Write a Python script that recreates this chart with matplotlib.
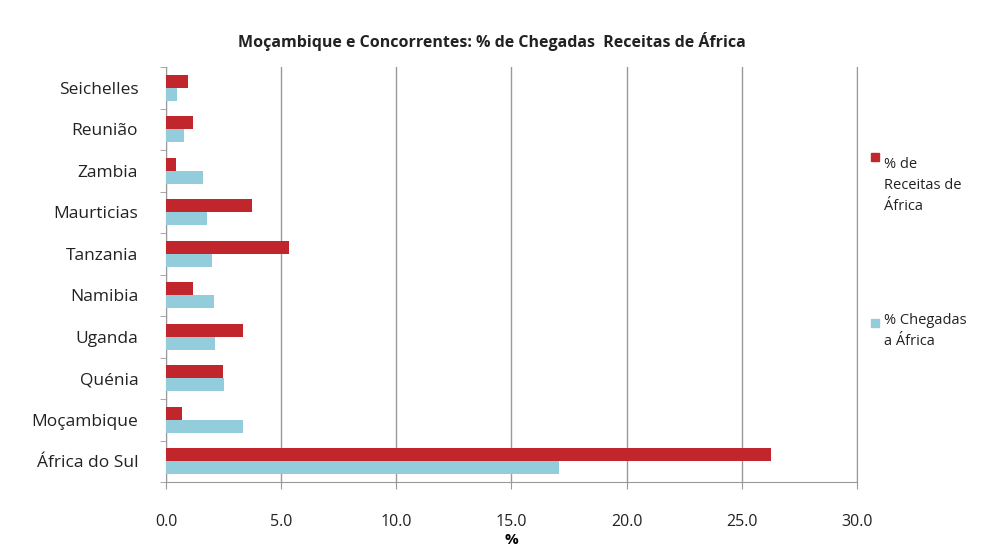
import matplotlib
matplotlib.use("Agg")
import matplotlib.pyplot as plt
import numpy as np
from matplotlib.patches import Rectangle

plt.rcParams['font.family'] = ['Open Sans', 'DejaVu Sans']

categories = ["África do Sul", "Moçambique", "Quénia", "Uganda", "Namibia",
              "Tanzania", "Maurticias", "Zambia", "Reunião", "Seichelles"]
receitas = [26.25, 0.68, 2.47, 3.35, 1.17, 5.35, 3.75, 0.43, 1.17, 0.95]
chegadas = [17.07, 3.33, 2.5, 2.12, 2.07, 1.98, 1.77, 1.6, 0.8, 0.47]
xticks = [0, 5, 10, 15, 20, 25, 30]
red = "#C0262C"
blue = "#93CDDB"

fig = plt.figure(figsize=(10.03, 5.5), dpi=100)
ax = fig.add_axes([0.1655, 0.1236, 0.6889, 0.7544])

y = np.arange(len(categories))
h = 0.31
ax.barh(y + h/2, receitas, height=h, color=red, zorder=3)
ax.barh(y - h/2, chegadas, height=h, color=blue, zorder=3)

ax.set_xlim(0, 30)
ax.set_ylim(-0.5, len(categories) - 0.5)
ax.set_xticks(xticks)
ax.set_xticklabels([f"{v:.1f}" for v in xticks], fontsize=11.5, color="#222222")
ax.tick_params(axis='x', length=5, color="#999999", pad=18)
ax.set_yticks(y)
ax.set_yticklabels(categories, fontsize=12.5, color="#222222")
ax.tick_params(axis='y', length=0, pad=20)
ax.set_yticks(np.arange(-0.5, len(categories)), minor=True)
ax.tick_params(axis='y', which='minor', length=4, color="#999999")
ax.grid(axis='x', color="#999999", linewidth=1, zorder=0)
ax.spines['top'].set_visible(False)
for s in ['left', 'bottom', 'right']:
    ax.spines[s].set_color("#999999")
ax.set_xlabel("%", fontsize=11, fontweight='bold', labelpad=2)

fig.text(0.49, 0.925, "Moçambique e Concorrentes: % de Chegadas  Receitas de África",
         ha='center', va='center', fontsize=11.5, fontweight='bold', color="#222222")

# legend
fig.patches.append(Rectangle((871/1003, 1-161/550), 8/1003, 8/550,
                             transform=fig.transFigure, color=red))
fig.text(884/1003, 1-157/550, "% de\nReceitas de\nÁfrica", fontsize=10.5,
         va='top', ha='left', color="#222222", linespacing=1.55,
         transform=fig.transFigure)
fig.patches.append(Rectangle((871/1003, 1-327/550), 8/1003, 8/550,
                             transform=fig.transFigure, color=blue))
fig.text(884/1003, 1-313/550, "% Chegadas\na África", fontsize=10.5,
         va='top', ha='left', color="#222222", linespacing=1.55,
         transform=fig.transFigure)

fig.savefig("out.png", dpi=100, facecolor="white")
